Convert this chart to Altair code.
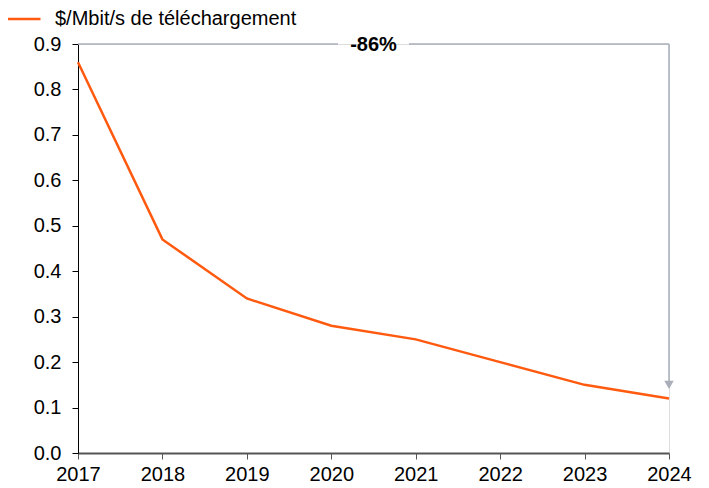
import altair as alt
import pandas as pd

years = [2017, 2018, 2019, 2020, 2021, 2022, 2023, 2024]
values = [0.86, 0.47, 0.34, 0.28, 0.25, 0.20, 0.15, 0.12]
series_name = "$/Mbit/s de téléchargement"
y_ticks = [0.0, 0.1, 0.2, 0.3, 0.4, 0.5, 0.6, 0.7, 0.8, 0.9]
change_label = "-86%"

# annotation geometry in data units
top_value = 0.9
gap_left, gap_right = 2020.08, 2020.92
arrow_end = 0.15

ORANGE = "#FF5A0F"
GRAY = "#A9AEB9"
FONT = "Liberation Sans"

df = pd.DataFrame({"year": years, "value": values, "series": [series_name] * len(years)})

xscale = alt.Scale(domain=[years[0], years[-1]], nice=False, zero=False)
yscale = alt.Scale(domain=[0, 0.9], nice=False)

line = alt.Chart(df).mark_line(strokeWidth=2.5).encode(
    x=alt.X("year:Q", scale=xscale, title=None,
            axis=alt.Axis(values=years, format="d", labelFontSize=20, labelColor="black",
                          domainColor="#555555", tickColor="#555555", tickSize=6,
                          labelPadding=5, grid=False, labelFont=FONT, domainWidth=2,
                          labelFlush=False, labelOverlap=False)),
    y=alt.Y("value:Q", scale=yscale, title=None,
            axis=alt.Axis(values=y_ticks, format=".1f", labelFontSize=20, labelColor="black",
                          domainColor="black", tickColor="black", tickSize=6,
                          labelPadding=11, grid=False, labelFont=FONT,
                          labelFlush=False, labelOverlap=False)),
    color=alt.Color("series:N", scale=alt.Scale(domain=[series_name], range=[ORANGE]),
                    legend=alt.Legend(title=None, orient="none", legendX=-76, legendY=-45,
                                      symbolType="stroke", symbolSize=1369, symbolStrokeWidth=2.5,
                                      labelFontSize=20, labelFont=FONT, labelColor="black",
                                      labelOffset=13, labelLimit=500)),
)

hdf = pd.DataFrame({"x": [years[0], gap_right], "x2": [gap_left, years[-1]],
                    "y": [top_value, top_value]})
hrules = alt.Chart(hdf).mark_rule(color=GRAY, strokeWidth=1.5).encode(
    x=alt.X("x:Q", scale=xscale), x2="x2:Q", y=alt.Y("y:Q", scale=yscale))

vdf = pd.DataFrame({"x": [years[-1]], "y": [top_value], "y2": [arrow_end]})
vrule = alt.Chart(vdf).mark_rule(color=GRAY, strokeWidth=1.5).encode(
    x=alt.X("x:Q", scale=xscale), y=alt.Y("y:Q", scale=yscale), y2="y2:Q")

arrow = alt.Chart(pd.DataFrame({"x": [years[-1]], "y": [arrow_end]})).mark_point(
    shape="triangle-down", filled=True, color=GRAY, size=90, opacity=1).encode(
    x=alt.X("x:Q", scale=xscale), y=alt.Y("y:Q", scale=yscale))

tdf = pd.DataFrame({"x": [(years[0] + years[-1]) / 2], "y": [top_value], "t": [change_label]})
text = alt.Chart(tdf).mark_text(fontWeight="bold", fontSize=20, font=FONT, color="black",
                                baseline="middle", dy=1).encode(
    x=alt.X("x:Q", scale=xscale), y=alt.Y("y:Q", scale=yscale), text="t:N")

chart = alt.layer(hrules, vrule, arrow, line, text).properties(
    width=591, height=409,
    autosize=alt.AutoSizeParams(type="none"),
    padding={"left": 70, "top": 36, "right": 30, "bottom": 30},
).configure_view(stroke=None).configure(font=FONT)

chart.save("out.html", embed_options={"renderer": "svg", "actions": False})
